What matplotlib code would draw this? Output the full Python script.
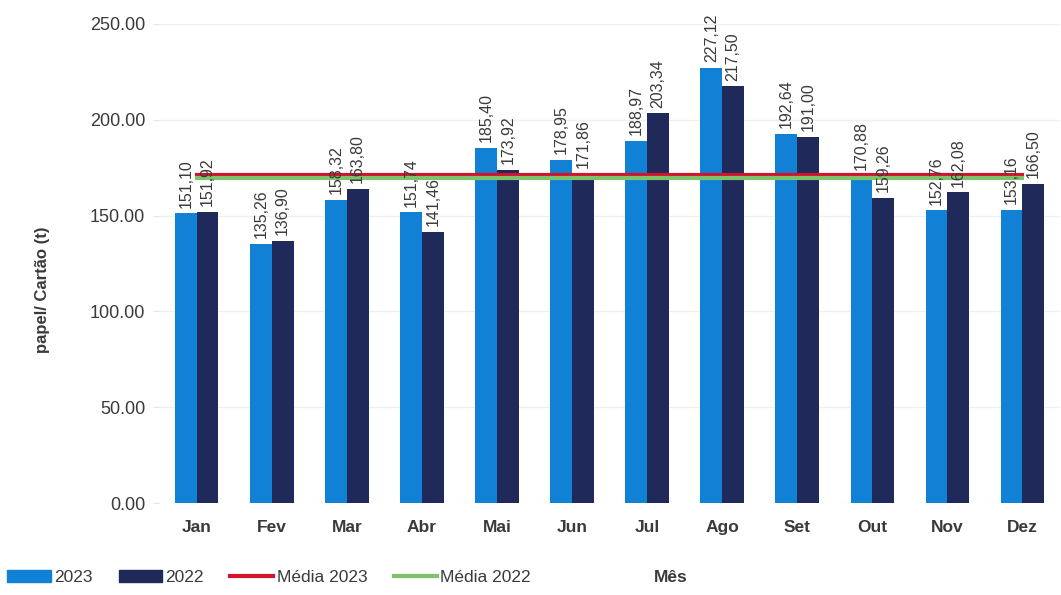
import numpy as np
import matplotlib
matplotlib.use('Agg')
from matplotlib import pyplot as plt
from matplotlib.patches import Patch
from matplotlib.lines import Line2D

plt.rcParams['font.family'] = ['Liberation Sans', 'DejaVu Sans']

meses = ['Jan', 'Fev', 'Mar', 'Abr', 'Mai', 'Jun', 'Jul', 'Ago', 'Set', 'Out', 'Nov', 'Dez']
v2023 = [151.10, 135.26, 158.32, 151.74, 185.40, 178.95, 188.97, 227.12, 192.64, 170.88, 152.76, 153.16]
v2022 = [151.92, 136.90, 163.80, 141.46, 173.92, 171.86, 203.34, 217.50, 191.00, 159.26, 162.08, 166.50]
media_2023 = 171.2
media_2022 = 169.5

c23 = '#1181d6'
c22 = '#1f2a5a'
cred = '#d3122e'
cgreen = '#7dc36b'
txt = '#3a3a3a'

fig = plt.figure(figsize=(10.61, 5.95), dpi=100)
ax = fig.add_axes([0.150, 0.1546, 0.849, 0.8051])

x = np.arange(len(meses))
w = 0.29
ax.bar(x - w/2, v2023, w, color=c23, zorder=2)
ax.bar(x + w/2, v2022, w, color=c22, zorder=2)

# medias
ax.plot(x, [media_2023]*len(x), color=cred, lw=3, zorder=3)
ax.plot(x, [media_2022]*len(x), color=cgreen, lw=3, zorder=3)

for xi, a, b in zip(x, v2023, v2022):
    ax.text(xi - w/2, a + 3, f'{a:.2f}'.replace('.', ','), rotation=90, ha='center', va='bottom',
            fontsize=11.5, color=txt, zorder=4)
    ax.text(xi + w/2, b + 3, f'{b:.2f}'.replace('.', ','), rotation=90, ha='center', va='bottom',
            fontsize=11.5, color=txt, zorder=4)

ax.set_xlim(-0.5, 11.5)
ax.set_ylim(0, 250)
ax.set_yticks(np.arange(0, 251, 50))
ax.set_yticklabels([f'{v:.2f}' for v in np.arange(0, 251, 50)], fontsize=13, color=txt)
ax.set_xticks(x)
ax.set_xticklabels(meses, fontsize=12.5, color=txt, fontweight='bold')
ax.tick_params(axis='x', length=0, pad=12)
ax.tick_params(axis='y', length=4, color='#e4e4e4', pad=6)
ax.grid(axis='y', color='#f0f0f0', lw=1, zorder=0)
for s in ax.spines.values():
    s.set_visible(False)

fig.text(0.040, 0.513, 'papel/ Cartão (t)', rotation=90, ha='center', va='center',
         fontsize=12, fontweight='bold', color=txt)
fig.text(0.632, 0.030, 'Mês', ha='center', va='center', fontsize=12.5, fontweight='bold', color=txt)

handles = [Patch(color=c23), Patch(color=c22),
           Line2D([], [], color=cred, lw=3), Line2D([], [], color=cgreen, lw=3)]
fig.legend(handles, ['2023', '2022', 'Média 2023', 'Média 2022'], loc='center left',
           bbox_to_anchor=(-0.008, 0.030), ncol=4, frameon=False, fontsize=12.5,
           handlelength=2.5, handleheight=0.7, handletextpad=0.2, columnspacing=1.5,
           labelcolor=txt)

fig.savefig('out.png', dpi=100)
